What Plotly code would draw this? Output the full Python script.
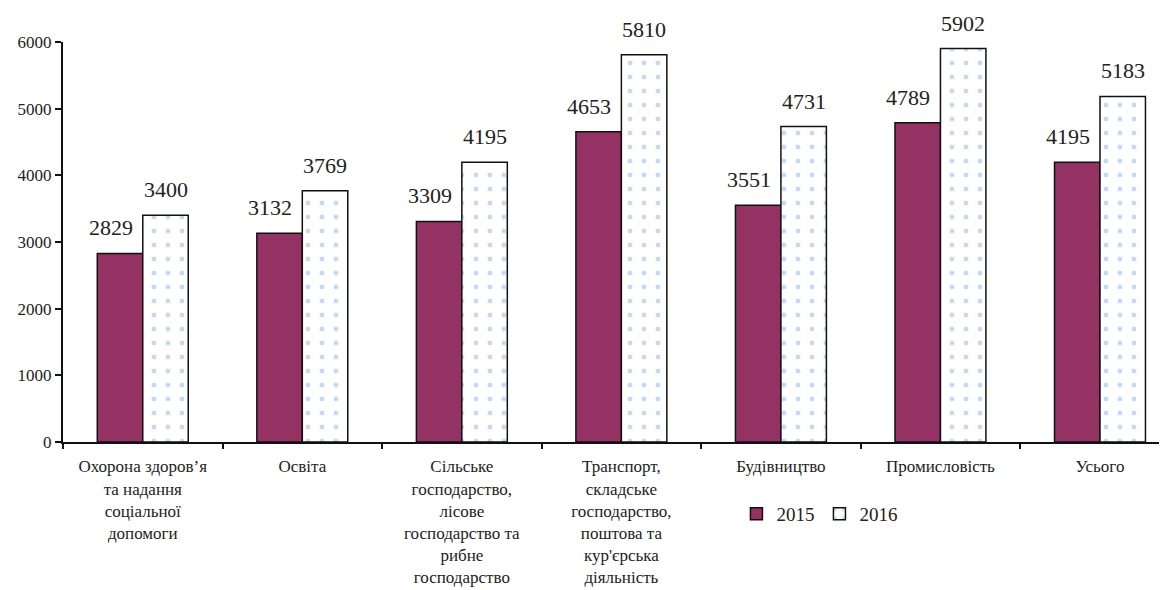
import plotly.graph_objects as go

categories = [
    "Охорона здоров’я<br>та надання<br>соціальної<br>допомоги",
    "Освіта",
    "Сільське<br>господарство,<br>лісове<br>господарство та<br>рибне<br>господарство",
    "Транспорт,<br>складське<br>господарство,<br>поштова та<br>кур'єрська<br>діяльність",
    "Будівництво",
    "Промисловість",
    "Усього",
]
values_2015 = [2829, 3132, 3309, 4653, 3551, 4789, 4195]
values_2016 = [3400, 3769, 4195, 5810, 4731, 5902, 5183]
y_ticks = [0, 1000, 2000, 3000, 4000, 5000, 6000]

FONT = "Times New Roman, Liberation Serif, DejaVu Serif, serif"
TXT = "#222222"

fig = go.Figure()
fig.add_trace(go.Bar(
    name="2015", x=categories, y=values_2015,
    marker=dict(color="#953264", line=dict(color="#111111", width=1.5)),
))
fig.add_trace(go.Bar(
    name="2016", x=categories, y=values_2016,
    marker=dict(
        color="white",
        line=dict(color="#111111", width=1.5),
        pattern=dict(shape=".", fgcolor="#8ab6e6", bgcolor="white", size=14, solidity=0.1),
    ),
))

annotations = []
for c, v in zip(categories, values_2015):
    annotations.append(dict(x=c, y=v, text=str(v), showarrow=False, xanchor="center",
                            yanchor="bottom", xshift=-32, yshift=11,
                            font=dict(family=FONT, size=22, color=TXT)))
for c, v in zip(categories, values_2016):
    annotations.append(dict(x=c, y=v, text=str(v), showarrow=False, xanchor="center",
                            yanchor="bottom", xshift=23, yshift=11,
                            font=dict(family=FONT, size=22, color=TXT)))

fig.update_layout(
    width=1159, height=582,
    margin=dict(l=55, r=0, t=34, b=148),
    paper_bgcolor="white", plot_bgcolor="white",
    barmode="group", bargap=0.43, bargroupgap=0,
    font=dict(family=FONT, color=TXT, size=17),
    showlegend=True,
    legend=dict(orientation="h", x=0.61, y=-0.18, xanchor="left", yanchor="middle",
                font=dict(family=FONT, size=19, color=TXT), itemwidth=30,
                tracegroupgap=0, bgcolor="rgba(0,0,0,0)"),
    annotations=annotations,
)
fig.update_xaxes(
    range=[-0.5, 6.42], showline=True, linecolor="#111111", linewidth=2,
    ticks="outside", tickson="boundaries", ticklen=5, tickcolor="#111111", tickwidth=2,
    ticklabelstandoff=8,
    showgrid=False, tickfont=dict(family=FONT, size=17, color=TXT), tickangle=0,
)
fig.update_yaxes(
    range=[0, 6000], tickvals=y_ticks, showline=True, linecolor="#111111", linewidth=2,
    ticks="outside", ticklen=6, tickcolor="#111111", tickwidth=2,
    showgrid=False, zeroline=False, tickfont=dict(family=FONT, size=17, color=TXT),
)

fig.write_html("out.html")
